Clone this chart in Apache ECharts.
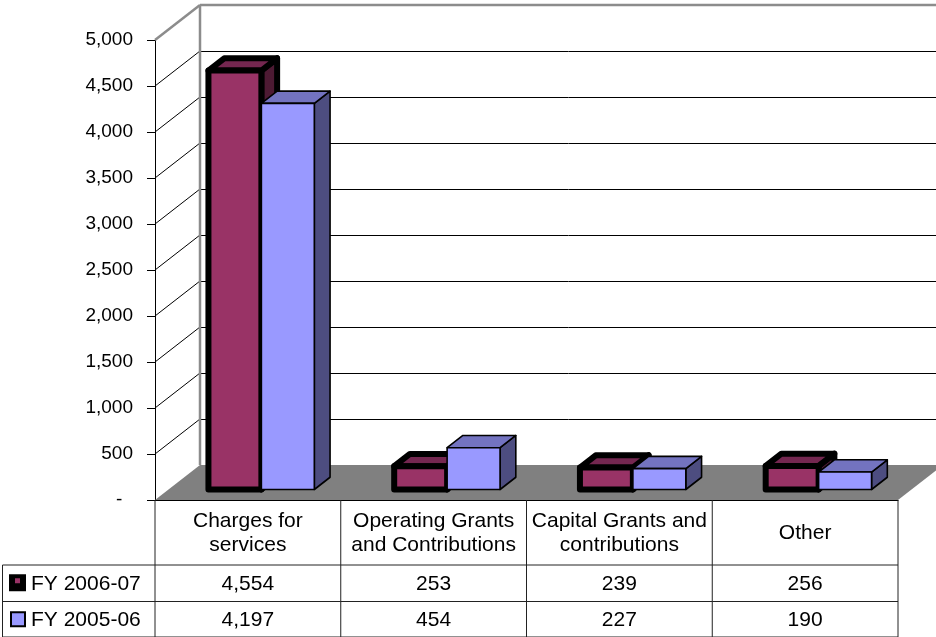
<!DOCTYPE html>
<html>
<head>
<meta charset="utf-8">
<script src="https://cdn.jsdelivr.net/npm/echarts@6/dist/echarts.min.js"></script>
<style>
  html, body { margin: 0; padding: 0; background: #fff; }
  #chart { width: 936px; height: 637px; }
</style>
</head>
<body>
<div id="chart"></div>
<script>
// Revenue by source (in thousands), two fiscal years
const categories = ['Charges for\nservices', 'Operating Grants\nand Contributions', 'Capital Grants and\ncontributions', 'Other'];
const seriesNames = ['FY 2006-07', 'FY 2005-06'];
const fy0607 = [4554, 253, 239, 256];
const fy0506 = [4197, 454, 227, 190];
const yTicks = [0, 500, 1000, 1500, 2000, 2500, 3000, 3500, 4000, 4500, 5000];

const FONT = '"Liberation Sans", Arial, sans-serif';
const TABLE_FONT = '21px ' + FONT;

// 3D depth of the plot box (back wall offset from the front plane)
const DX = 45, DY = 35;
// depth range occupied by the bars, as fractions of the box depth
const F1 = 0.3, F2 = 0.65;
// bar width as a fraction of a category band
const BAR_FRAC = 0.285;

const palettes = [
  { front: '#993366', top: '#742750', side: '#4d1a33', stroke: '#000', width: 6 },
  { front: '#9999ff', top: '#7373c0', side: '#4d4d80', stroke: '#000', width: 1.6 }
];

function fmt(v) {
  return v === 0 ? '-  ' : v.toLocaleString('en-US');
}

// snap a 1px line to the pixel grid
function crisp(v) {
  return Math.round(v) + 0.5;
}

// back wall, left wall and floor
function renderWalls(params, api) {
  const cs = params.coordSys;
  const v = api.value(0);
  const p = api.coord([0, v]);
  const left = cs.x, right = cs.x + cs.width;
  const y = p[1];
  const children = [];
  const isTop = v === yTicks[yTicks.length - 1];
  if (v === 0) {
    children.push({
      type: 'polygon',
      shape: { points: [[left, y], [left + DX, y - DY], [right + DX, y - DY], [right, y]] },
      style: { fill: '#808080', stroke: null }
    });
    return { type: 'group', children };
  }
  const color = isTop ? '#8c8c8c' : '#000';
  const lw = isTop ? 2.5 : 1;
  const yb = isTop ? y - DY : crisp(y - DY);
  children.push({
    type: 'line',
    shape: { x1: left, y1: y, x2: left + DX, y2: y - DY },
    style: { stroke: color, lineWidth: lw }
  });
  children.push({
    type: 'line',
    shape: { x1: left + DX, y1: yb, x2: right + DX + 10, y2: yb },
    style: { stroke: color, lineWidth: lw }
  });
  if (isTop) {
    const base = api.coord([0, 0]);
    children.push({
      type: 'line',
      shape: { x1: left + DX, y1: y - DY, x2: left + DX, y2: base[1] - DY },
      style: { stroke: '#8c8c8c', lineWidth: 2.5 }
    });
  }
  return { type: 'group', children };
}

function makeBarRenderer(slot) {
  const pal = palettes[slot];
  return function (params, api) {
    const i = api.value(0);
    const v = api.value(1);
    const base = api.coord([i, 0]);
    const topPt = api.coord([i, v]);
    const band = api.size([1, 0])[0];
    const bw = band * BAR_FRAC;
    const h = base[1] - topPt[1];
    const x0 = base[0] - bw + slot * bw + F1 * DX;
    const yb = base[1] - F1 * DY;
    const yt = yb - h;
    const ddx = (F2 - F1) * DX, ddy = (F2 - F1) * DY;
    const st = { stroke: pal.stroke, lineWidth: pal.width, lineJoin: 'round' };
    return {
      type: 'group',
      children: [
        {
          type: 'polygon',
          shape: { points: [[x0 + bw, yt], [x0 + bw + ddx, yt - ddy], [x0 + bw + ddx, yb - ddy], [x0 + bw, yb]] },
          style: Object.assign({ fill: pal.side }, st)
        },
        {
          type: 'polygon',
          shape: { points: [[x0, yt], [x0 + ddx, yt - ddy], [x0 + bw + ddx, yt - ddy], [x0 + bw, yt]] },
          style: Object.assign({ fill: pal.top }, st)
        },
        {
          type: 'polygon',
          shape: { points: [[x0, yt], [x0 + bw, yt], [x0 + bw, yb], [x0, yb]] },
          style: Object.assign({ fill: pal.front }, st)
        }
      ]
    };
  };
}

// data table under the plot
const HEAD_H = 65, ROW1_H = 36.5, ROW2_H = 35.5;
const rowValues = [fy0607, fy0506];

function renderTable(params, api) {
  const i = api.value(0);
  const c = api.coord([i, 0]);
  const band = api.size([1, 0])[0];
  const L = c[0] - band / 2, R = c[0] + band / 2;
  const y0 = c[1];
  const yA = y0 + HEAD_H, yB = yA + ROW1_H, yC = yB + ROW2_H;
  const lineStyle = { stroke: '#222', lineWidth: 1 };
  const ch = [];
  ch.push({ type: 'line', shape: { x1: R, y1: y0, x2: R, y2: yC }, style: lineStyle });
  [yA, yB, yC].forEach(function (yy) {
    ch.push({ type: 'line', shape: { x1: L, y1: yy, x2: R, y2: yy }, style: lineStyle });
  });
  ch.push({
    type: 'text',
    style: { text: categories[i], x: c[0], y: (y0 + yA) / 2 + 1, fill: '#000', font: TABLE_FONT, align: 'center', verticalAlign: 'middle', lineHeight: 24 }
  });
  ch.push({
    type: 'text',
    style: { text: fmt(rowValues[0][i]), x: c[0], y: (yA + yB) / 2 + 1, fill: '#000', font: TABLE_FONT, align: 'center', verticalAlign: 'middle' }
  });
  ch.push({
    type: 'text',
    style: { text: fmt(rowValues[1][i]), x: c[0], y: (yB + yC) / 2 + 1, fill: '#000', font: TABLE_FONT, align: 'center', verticalAlign: 'middle' }
  });
  if (i === 0) {
    const LL = 2.5;
    ch.push({ type: 'line', shape: { x1: L, y1: y0, x2: L, y2: yC }, style: lineStyle });
    ch.push({ type: 'line', shape: { x1: LL, y1: yA, x2: LL, y2: yC }, style: lineStyle });
    [yA, yB, yC].forEach(function (yy) {
      ch.push({ type: 'line', shape: { x1: LL, y1: yy, x2: L, y2: yy }, style: lineStyle });
    });
    // legend keys
    const m1 = (yA + yB) / 2, m2 = (yB + yC) / 2;
    ch.push({ type: 'rect', shape: { x: 9, y: m1 - 9, width: 17, height: 17 }, style: { fill: '#000' } });
    ch.push({ type: 'rect', shape: { x: 15, y: m1 - 5, width: 5, height: 5 }, style: { fill: palettes[0].front } });
    ch.push({ type: 'rect', shape: { x: 11, y: m2 - 7, width: 14, height: 14 }, style: { fill: palettes[1].front, stroke: '#000', lineWidth: 2 } });
    ch.push({
      type: 'text',
      style: { text: seriesNames[0], x: 31, y: m1 + 1, fill: '#000', font: TABLE_FONT, align: 'left', verticalAlign: 'middle' }
    });
    ch.push({
      type: 'text',
      style: { text: seriesNames[1], x: 31, y: m2 + 1, fill: '#000', font: TABLE_FONT, align: 'left', verticalAlign: 'middle' }
    });
  }
  return { type: 'group', children: ch };
}

const chart = echarts.init(document.getElementById('chart'), null, { renderer: 'canvas' });

chart.setOption({
  animation: false,
  backgroundColor: '#fff',
  grid: { left: 155, right: 38, top: 40, bottom: 137, containLabel: false },
  xAxis: {
    type: 'category',
    data: categories,
    boundaryGap: true,
    axisLine: { show: true, lineStyle: { color: '#000', width: 1 } },
    axisTick: { show: false },
    axisLabel: { show: false },
    splitLine: { show: false }
  },
  yAxis: {
    type: 'value',
    min: yTicks[0],
    max: yTicks[yTicks.length - 1],
    interval: yTicks[1] - yTicks[0],
    axisLine: { show: true, lineStyle: { color: '#000', width: 1 } },
    axisTick: { show: true, length: 8, lineStyle: { color: '#000' } },
    splitLine: { show: false },
    axisLabel: {
      formatter: fmt,
      margin: 22,
      color: '#000',
      fontSize: 19,
      fontFamily: FONT
    }
  },
  series: [
    {
      type: 'custom',
      name: 'walls',
      z: 1,
      clip: false,
      silent: true,
      renderItem: renderWalls,
      encode: { y: 0 },
      data: yTicks.map(function (v) { return [v]; })
    },
    {
      type: 'custom',
      name: 'table',
      z: 2,
      clip: false,
      silent: true,
      renderItem: renderTable,
      encode: { x: 0 },
      data: categories.map(function (c, i) { return [i]; })
    },
    {
      type: 'custom',
      name: seriesNames[0],
      z: 3,
      clip: false,
      renderItem: makeBarRenderer(0),
      encode: { x: 0, y: 1 },
      data: fy0607.map(function (v, i) { return [i, v]; })
    },
    {
      type: 'custom',
      name: seriesNames[1],
      z: 4,
      clip: false,
      renderItem: makeBarRenderer(1),
      encode: { x: 0, y: 1 },
      data: fy0506.map(function (v, i) { return [i, v]; })
    }
  ]
});
</script>
</body>
</html>
